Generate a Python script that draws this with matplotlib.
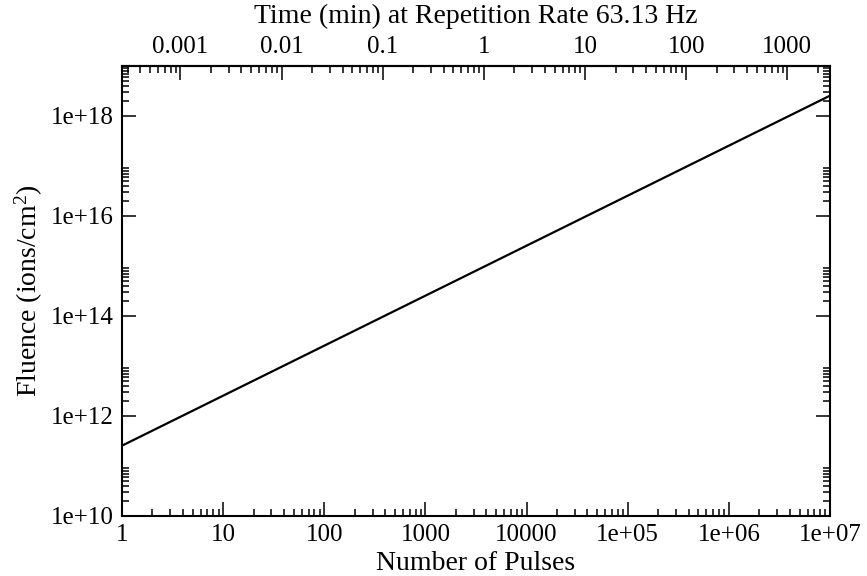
import numpy as np
import matplotlib
matplotlib.use("Agg")
import matplotlib.pyplot as plt
from matplotlib.ticker import FixedLocator, FixedFormatter, NullFormatter

plt.rcParams['font.family'] = 'Liberation Serif'
plt.rcParams['mathtext.fontset'] = 'custom'
plt.rcParams['mathtext.rm'] = 'Liberation Serif'
plt.rcParams['mathtext.it'] = 'Liberation Serif:italic'

# data: fluence grows linearly with number of pulses
rep_rate = 63.13                      # Hz
fluence_per_pulse = 2.55e11           # ions/cm^2 per pulse
pulses = np.array([1.0, 1e7])
fluence = fluence_per_pulse * pulses

x_ticks = [1, 10, 100, 1000, 10000, 1e5, 1e6, 1e7]
x_labels = ['1', '10', '100', '1000', '10000', '1e+05', '1e+06', '1e+07']
y_ticks = [1e10, 1e12, 1e14, 1e16, 1e18]
y_labels = ['1e+10', '1e+12', '1e+14', '1e+16', '1e+18']
t_ticks = [0.001, 0.01, 0.1, 1, 10, 100, 1000]
t_labels = ['0.001', '0.01', '0.1', '1', '10', '100', '1000']


def to_min(n):
    return n / rep_rate / 60.0


def to_pulses(t):
    return t * rep_rate * 60.0


fig = plt.figure(figsize=(8.67, 5.76), dpi=100)
ax = fig.add_axes([122 / 867, 60 / 576, 708 / 867, 450 / 576])

ax.plot(pulses, fluence, color='black', lw=1.6)
ax.set_xscale('log')
ax.set_yscale('log')
ax.set_xlim(1, 1e7)
ax.set_ylim(1e10, 1e19)

# x ticks
ax.xaxis.set_major_locator(FixedLocator(x_ticks))
ax.xaxis.set_major_formatter(FixedFormatter(x_labels))
xminor = [k * 10.0 ** e for e in range(0, 7) for k in range(2, 10)]
ax.xaxis.set_minor_locator(FixedLocator(xminor))
ax.xaxis.set_minor_formatter(NullFormatter())

# y ticks: labelled every two decades, minor ticks in the first decade of each pair
ax.yaxis.set_major_locator(FixedLocator(y_ticks))
ax.yaxis.set_major_formatter(FixedFormatter(y_labels))
yminor = [k * 10.0 ** e for e in range(10, 19, 2) for k in range(2, 10)]
ax.yaxis.set_minor_locator(FixedLocator(yminor))
ax.yaxis.set_minor_formatter(NullFormatter())

ax.tick_params(which='both', direction='in', top=False, right=True,
               labelsize=18, width=1.1, pad=6)
ax.tick_params(which='major', length=10)
ax.tick_params(which='minor', length=5)

ax.set_xlabel('Number of Pulses', fontsize=20, labelpad=3)
ax.set_ylabel(r'Fluence (ions/cm$^{2}$)', fontsize=20, labelpad=4)

# top axis: time in minutes
top = ax.secondary_xaxis('top', functions=(to_min, to_pulses))
top.xaxis.set_major_locator(FixedLocator(t_ticks))
top.xaxis.set_major_formatter(FixedFormatter(t_labels))
tminor = [k * 10.0 ** e for e in range(-4, 4) for k in range(2, 10)]
top.xaxis.set_minor_locator(FixedLocator(tminor))
top.xaxis.set_minor_formatter(NullFormatter())
top.tick_params(which='both', direction='in', labelsize=18, width=1.1, pad=6)
top.tick_params(which='major', length=10)
top.tick_params(which='minor', length=5)
top.set_xlabel('Time (min) at Repetition Rate 63.13 Hz', fontsize=20, labelpad=9)

for s in ax.spines.values():
    s.set_linewidth(1.5)
top.spines['top'].set_linewidth(1.5)

fig.savefig('out.png', dpi=100)
